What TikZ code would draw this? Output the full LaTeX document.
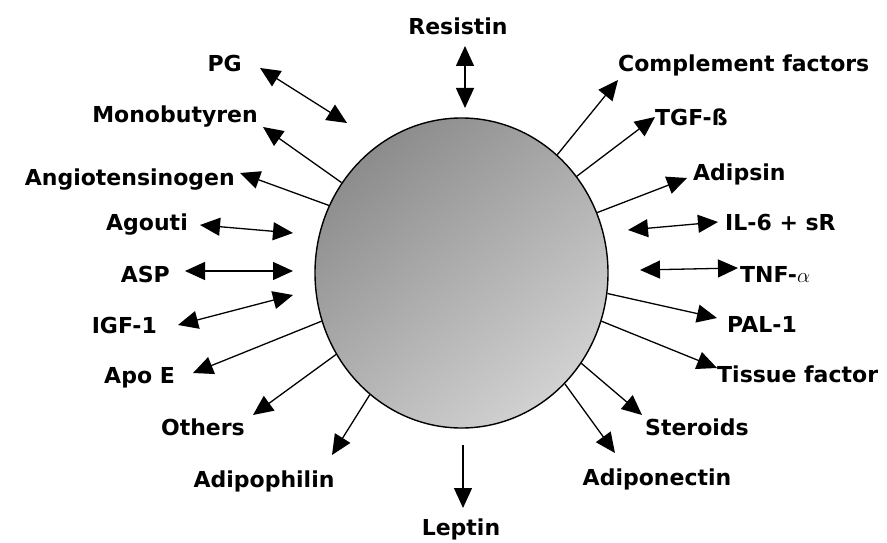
\documentclass[tikz,border=0pt]{standalone}
\usepackage{fontspec}
\setmainfont{DejaVu Sans}
\usetikzlibrary{arrows.meta,shapes.geometric}
\begin{document}
\begin{tikzpicture}[x=1pt,y=-1pt,
  lbl/.style={font=\fontsize{22}{26}\selectfont\bfseries, inner sep=0pt},
  tipA/.tip={Triangle[length=20pt,width=18pt]},
  conn/.style={line width=1.3pt, -tipA},
  dconn/.style={line width=1.3pt, tipA-tipA}]
\useasboundingbox (0,0) rectangle (887,543);
\node[ellipse, draw, line width=1.4pt, minimum width=293pt, minimum height=310pt, inner sep=0pt,
      top color=black!45, bottom color=black!18, shading angle=40] (cell) at (461.5,273) {};

% labels
\node[lbl, anchor=base] (resistin) at (458,35) {Resistin};
\node[lbl, anchor=base east] (pg) at (242,72) {PG};
\node[lbl, anchor=base east] (mono) at (258,123) {Monobutyren};
\node[lbl, anchor=base east] (angio) at (235,185) {Angiotensinogen};
\node[lbl, anchor=base east] (agouti) at (188,230) {Agouti};
\node[lbl, anchor=base east] (asp) at (170,282) {ASP};
\node[lbl, anchor=base east] (igf) at (157,333) {IGF-1};
\node[lbl, anchor=base east] (apoe) at (175,383) {Apo E};
\node[lbl, anchor=base east] (others) at (245,435) {Others};
\node[lbl, anchor=base] (adipophilin) at (264,487) {Adipophilin};
\node[lbl, anchor=base] (leptin) at (461,535) {Leptin};
\node[lbl, anchor=base west] (compl) at (618,72) {Complement factors};
\node[lbl, anchor=base west] (tgf) at (655,125) {TGF-ß};
\node[lbl, anchor=base west] (adipsin) at (693,180) {Adipsin};
\node[lbl, anchor=base west] (il6) at (725,230) {IL-6 + sR};
\node[lbl, anchor=base west] (tnf) at (740,282) {TNF-$\alpha$};
\node[lbl, anchor=base west] (pal) at (727,332) {PAL-1};
\node[lbl, anchor=base west] (tissue) at (717,382) {Tissue factor};
\node[lbl, anchor=base west] (steroids) at (645,435) {Steroids};
\node[lbl, anchor=base] (adiponectin) at (657,485) {Adiponectin};

% arrow ends
\coordinate (rA) at (465,46);   \coordinate (rB) at (465,108);
\coordinate (pgA) at (260,68);  \coordinate (pgB) at (347,123);
\coordinate (agA) at (200,225); \coordinate (agB) at (293,233);
\coordinate (aspA) at (185,271);\coordinate (aspB) at (293,271);
\coordinate (igA) at (178,325); \coordinate (igB) at (293,295);
\coordinate (ilA) at (628,230); \coordinate (ilB) at (718,222);
\coordinate (tnA) at (640,270); \coordinate (tnB) at (738,268);
\coordinate (lepA) at (463,445);\coordinate (lepB) at (463,508);
\coordinate (tMono) at (263,127);
\coordinate (tAngio) at (240,173);
\coordinate (tApo) at (193,373);
\coordinate (tOth) at (253,415);
\coordinate (tAdph) at (332,455);
\coordinate (tCompl) at (618,80);
\coordinate (tTgf) at (655,117);
\coordinate (tAdps) at (687,178);
\coordinate (tPal) at (717,318);
\coordinate (tTis) at (717,368);
\coordinate (tSter) at (642,415);
\coordinate (tAdpn) at (615,453);

% double arrows
\draw[dconn] (rA) -- (rB);
\draw[dconn] (pgA) -- (pgB);
\draw[dconn] (agA) -- (agB);
\draw[dconn] (aspA) -- (aspB);
\draw[dconn] (igA) -- (igB);
\draw[dconn] (ilA) -- (ilB);
\draw[dconn] (tnA) -- (tnB);
\draw[conn] (lepA) -- (lepB);

% single arrows from the cell
\draw[conn] (cell.143.6) -- (tMono);
\draw[conn] (cell.153.5) -- (tAngio);
\draw[conn] (cell.199.1) -- (tApo);
\draw[conn] (cell.213.4) -- (tOth);
\draw[conn] (cell.233.3) -- (tAdph);
\draw[conn] (cell.51.7) -- (tCompl);
\draw[conn] (cell.40.6) -- (tTgf);
\draw[conn] (cell.24.8) -- (tAdps);
\draw[conn] (cell.-8.4) -- (tPal);
\draw[conn] (cell.-19.5) -- (tTis);
\draw[conn] (cell.-37.4) -- (tSter);
\draw[conn] (cell.-47.8) -- (tAdpn);
\end{tikzpicture}
\end{document}
